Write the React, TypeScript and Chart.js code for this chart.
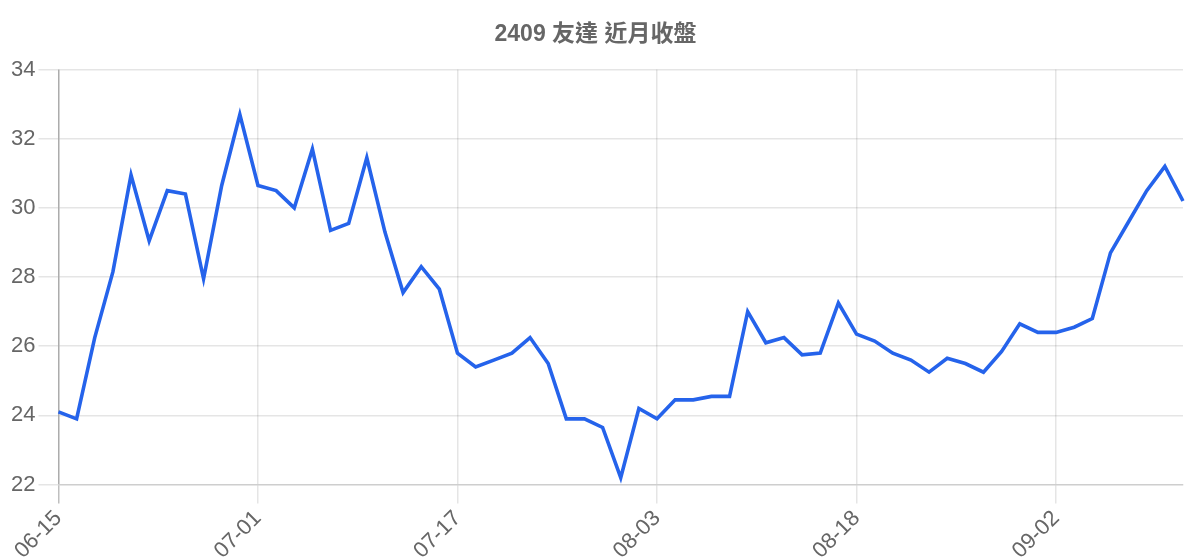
import { useEffect, useRef } from "react";
import { Chart } from "chart.js/auto";
import type { ChartConfiguration } from "chart.js";

const TITLE = "2409 友達 近月收盤";

const dates = [
  "06-15", "06-16", "06-17", "06-18", "06-19", "06-20", "06-22", "06-23", "06-24", "06-29",
  "06-30", "07-01", "07-02", "07-03", "07-06", "07-07", "07-08", "07-09", "07-10", "07-13",
  "07-14", "07-16", "07-17", "07-20", "07-21", "07-22", "07-23", "07-24", "07-27", "07-28",
  "07-29", "07-30", "07-31", "08-03", "08-04", "08-05", "08-06", "08-07", "08-10", "08-11",
  "08-12", "08-13", "08-14", "08-17", "08-18", "08-19", "08-20", "08-21", "08-24", "08-25",
  "08-26", "08-27", "08-28", "08-31", "09-01", "09-02", "09-03", "09-04", "09-07", "09-08",
  "09-09", "09-10", "09-11",
];

const closes = [
  24.1, 23.9, 26.25, 28.15, 30.95, 29.05, 30.5, 30.4, 27.95, 30.65,
  32.7, 30.65, 30.5, 30.0, 31.7, 29.35, 29.55, 31.45, 29.3, 27.55,
  28.3, 27.65, 25.8, 25.4, 25.6, 25.8, 26.25, 25.5, 23.9, 23.9,
  23.65, 22.2, 24.2, 23.9, 24.45, 24.45, 24.55, 24.55, 27.0, 26.1,
  26.25, 25.75, 25.8, 27.25, 26.35, 26.15, 25.8, 25.6, 25.25, 25.65,
  25.5, 25.25, 25.85, 26.65, 26.4, 26.4, 26.55, 26.8, 28.7, 29.6,
  30.5, 31.2, 30.2,
];

const yMin = 22;
const yMax = 34;
const yStep = 2;

export default function App() {
  const canvasRef = useRef<HTMLCanvasElement>(null);
  const chartRef = useRef<Chart | null>(null);

  useEffect(() => {
    document.documentElement.style.overflow = "hidden";
    if (!canvasRef.current) return;
    const ctx = canvasRef.current.getContext("2d");
    if (!ctx) return;

    const tickFont = { family: "Arial, 'Liberation Sans', sans-serif", size: 22 };

    const config: ChartConfiguration<"line"> = {
      type: "line",
      data: {
        labels: dates,
        datasets: [
          {
            label: "收盤",
            data: closes,
            borderColor: "#2563eb",
            backgroundColor: "#2563eb",
            borderWidth: 3.6,
            pointRadius: 0,
            tension: 0,
            fill: false,
          },
        ],
      },
      options: {
        responsive: true,
        maintainAspectRatio: false,
        animation: false,
        layout: { padding: { right: 9 } },
        plugins: {
          legend: { display: false },
          tooltip: { enabled: false },
          title: {
            display: true,
            text: TITLE,
            color: "#666",
            font: { family: "Arial, 'Liberation Sans', 'Noto Sans CJK TC', sans-serif", size: 23, weight: "bold" },
            padding: { top: 13, bottom: 21 },
          },
        },
        scales: {
          x: {
            ticks: {
              color: "#666",
              font: tickFont,
              minRotation: 45,
              maxRotation: 45,
              autoSkip: true,
              maxTicksLimit: 6,
              padding: 2,
            },
            grid: {
              color: (c) => (c.index === 0 ? "rgba(0,0,0,0.25)" : "rgba(0,0,0,0.1)"),
              lineWidth: 1.5,
              tickLength: 19,
            },
            border: { color: "rgba(0,0,0,0.1)", width: 1.5 },
          },
          y: {
            min: yMin,
            max: yMax,
            ticks: {
              color: "#666",
              font: tickFont,
              stepSize: yStep,
              padding: 3,
            },
            grid: {
              color: "rgba(0,0,0,0.1)",
              lineWidth: 1.5,
              tickLength: 20,
            },
            border: { color: "rgba(0,0,0,0.1)", width: 1.5 },
          },
        },
      },
    };

    chartRef.current = new Chart(ctx, config);

    return () => {
      if (chartRef.current) {
        chartRef.current.destroy();
        chartRef.current = null;
      }
    };
  }, []);

  return (
    <div style={{ position: "relative", width: "100%", height: 558 }}>
      <canvas ref={canvasRef} />
    </div>
  );
}
